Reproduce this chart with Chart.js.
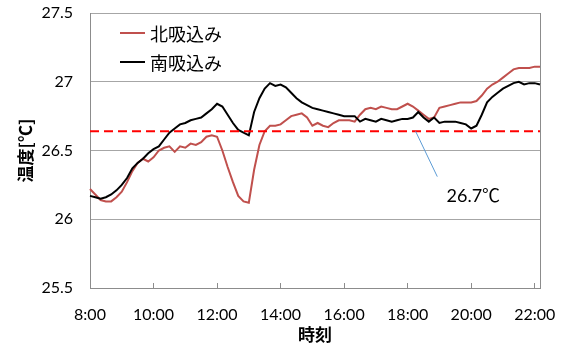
<!DOCTYPE html>
<html>
<head>
<meta charset="utf-8">
<script src="https://cdn.jsdelivr.net/npm/chart.js"></script>
<style>
  html, body { margin: 0; padding: 0; background: #fff; }
</style>
</head>
<body>
<canvas id="graficoTemperatura" width="568" height="345"></canvas>
<script>
// categorias: cada 10 minutos de 8:00 a 22:10
const times = [];
for (let m = 8 * 60; m <= 22 * 60 + 10; m += 10) {
  times.push(Math.floor(m / 60) + ':' + String(m % 60).padStart(2, '0'));
}
const tickLabels = ['8:00', '10:00', '12:00', '14:00', '16:00', '18:00', '20:00', '22:00'];

// 北吸込み
const kita = [
  26.22, 26.18, 26.14, 26.13, 26.13, 26.16, 26.20, 26.27, 26.35, 26.41, 26.44, 26.42,
  26.45, 26.50, 26.52, 26.53, 26.49, 26.53, 26.52, 26.55, 26.54, 26.56, 26.60, 26.61,
  26.60, 26.50, 26.38, 26.27, 26.17, 26.13, 26.12, 26.36, 26.54, 26.64, 26.68, 26.68,
  26.69, 26.72, 26.75, 26.76, 26.77, 26.74, 26.68, 26.70, 26.68, 26.67, 26.70, 26.72,
  26.72, 26.72, 26.71, 26.76, 26.80, 26.81, 26.80, 26.82, 26.81, 26.80, 26.80, 26.82,
  26.84, 26.82, 26.79, 26.76, 26.73, 26.74, 26.81, 26.82, 26.83, 26.84, 26.85, 26.85,
  26.85, 26.86, 26.90, 26.95, 26.98, 27.00, 27.03, 27.06, 27.09, 27.10, 27.10, 27.10,
  27.11, 27.11
];
// 南吸込み
const minami = [
  26.17, 26.16, 26.15, 26.16, 26.18, 26.21, 26.25, 26.30, 26.37, 26.41, 26.44, 26.48,
  26.51, 26.53, 26.58, 26.63, 26.66, 26.69, 26.70, 26.72, 26.73, 26.74, 26.77, 26.80,
  26.84, 26.82, 26.76, 26.70, 26.65, 26.63, 26.61, 26.78, 26.88, 26.95, 26.99, 26.97,
  26.98, 26.96, 26.92, 26.88, 26.85, 26.83, 26.81, 26.80, 26.79, 26.78, 26.77, 26.76,
  26.75, 26.75, 26.75, 26.71, 26.73, 26.72, 26.71, 26.73, 26.72, 26.71, 26.72, 26.73,
  26.73, 26.74, 26.78, 26.74, 26.71, 26.74, 26.70, 26.71, 26.71, 26.71, 26.70, 26.69,
  26.66, 26.68, 26.76, 26.85, 26.89, 26.92, 26.95, 26.97, 26.99, 27.00, 26.98, 26.99,
  26.99, 26.98
];
const lineaRef = 26.64;
const etiquetaRef = '26.7℃';

Chart.defaults.font.family = 'Lato';
Chart.defaults.color = '#000';

// marco derecho del area
const marco = {
  id: 'marco',
  beforeDatasetsDraw(chart) {
    const { ctx, chartArea: a } = chart;
    ctx.save();
    ctx.strokeStyle = '#8c8c8c';
    ctx.lineWidth = 1;
    ctx.beginPath();
    ctx.moveTo(a.right + 0.5, a.top);
    ctx.lineTo(a.right + 0.5, a.bottom);
    ctx.stroke();
    ctx.restore();
  }
};

// leyenda dentro del grafico
const leyenda = {
  id: 'leyenda',
  afterDatasetsDraw(chart) {
    const { ctx, chartArea: a } = chart;
    ctx.save();
    ctx.font = "18px 'Noto Sans CJK JP'";
    ctx.textBaseline = 'middle';
    chart.data.datasets.slice(0, 2).forEach((ds, i) => {
      const y = a.top + 20 + i * 29;
      ctx.strokeStyle = ds.borderColor;
      ctx.lineWidth = 2;
      ctx.beginPath();
      ctx.moveTo(a.left + 30, y);
      ctx.lineTo(a.left + 55, y);
      ctx.stroke();
      ctx.fillStyle = '#000';
      ctx.fillText(ds.label, a.left + 60, y + 1);
    });
    ctx.restore();
  }
};

// etiqueta 26.7℃ con linea
const nota = {
  id: 'nota',
  afterDatasetsDraw(chart) {
    const { ctx, scales: { x, y } } = chart;
    ctx.save();
    ctx.strokeStyle = '#5B9BD5';
    ctx.lineWidth = 1;
    ctx.beginPath();
    ctx.moveTo(x.getPixelForValue(61.5), y.getPixelForValue(lineaRef));
    ctx.lineTo(x.getPixelForValue(65.6), y.getPixelForValue(26.31));
    ctx.stroke();
    ctx.font = "18px Lato, 'Noto Sans CJK JP'";
    ctx.fillStyle = '#000';
    ctx.textAlign = 'center';
    ctx.textBaseline = 'middle';
    ctx.fillText(etiquetaRef, x.getPixelForValue(72.4), y.getPixelForValue(26.17));
    ctx.restore();
  }
};

const sinPadding = (s) => {
  s.paddingTop = 0;
  s.paddingBottom = 0;
  s.paddingLeft = 0;
  s.paddingRight = 0;
};

const ctx = document.getElementById('graficoTemperatura').getContext('2d');
const myChart = new Chart(ctx, {
  type: 'line',
  data: {
    labels: times,
    datasets: [
      { label: '北吸込み', data: kita, borderColor: '#C0504D', borderWidth: 2, pointRadius: 0, order: 2 },
      { label: '南吸込み', data: minami, borderColor: '#000000', borderWidth: 2, pointRadius: 0, order: 1 },
      { label: 'ref', data: times.map(() => lineaRef), borderColor: '#FF0000', borderWidth: 2,
        borderDash: [9, 5], pointRadius: 0, order: 0 }
    ]
  },
  options: {
    responsive: false,
    animation: false,
    layout: { padding: { left: 0, top: 13, right: 28, bottom: 0 } },
    plugins: { legend: { display: false }, tooltip: { enabled: false } },
    scales: {
      x: {
        type: 'category',
        grid: {
          drawOnChartArea: false,
          tickLength: -5,
          tickColor: (c) => tickLabels.includes(times[c.index]) ? '#8c8c8c' : 'rgba(0,0,0,0)'
        },
        border: { color: '#8c8c8c' },
        ticks: {
          autoSkip: false,
          maxRotation: 0,
          padding: 22,
          font: { size: 16 },
          callback: function (v) {
            const l = this.getLabelForValue(v);
            return tickLabels.includes(l) ? l : '';
          }
        },
        title: { display: true, text: '時刻', font: { family: 'Noto Sans CJK JP', size: 17, weight: 'bold' }, padding: 0 },
        afterFit: (s) => { s.height = 57; sinPadding(s); }
      },
      y: {
        min: 25.5,
        max: 27.5,
        ticks: { stepSize: 0.5, padding: 17, font: { size: 16 }, callback: (v) => String(v) },
        grid: { color: '#a6a6a6', drawTicks: false },
        border: { color: '#8c8c8c' },
        title: { display: true, text: '温度[℃]', font: { family: 'Noto Sans CJK JP', size: 17, weight: 'bold' }, padding: { top: 15 } },
        afterFit: (s) => { s.width = 90; sinPadding(s); }
      }
    }
  },
  plugins: [marco, leyenda, nota]
});
</script>
</body>
</html>
